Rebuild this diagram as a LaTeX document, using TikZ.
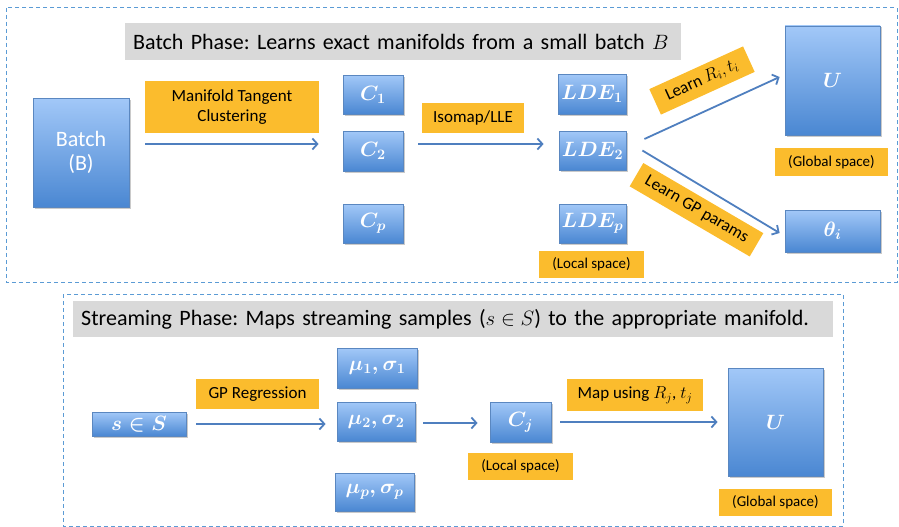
\documentclass[tikz,border=0pt]{standalone}
\usepackage{fontspec}
\setmainfont{Carlito}
\usetikzlibrary{arrows.meta,shadows}
\definecolor{bluetop}{HTML}{A2C8F8}
\definecolor{bluebot}{HTML}{4A87D2}
\definecolor{boxline}{HTML}{5A87C0}
\definecolor{gold}{HTML}{FBBC2D}
\definecolor{greyfill}{HTML}{D9D9D9}
\definecolor{arrowc}{HTML}{4F7FBF}
\definecolor{dashc}{HTML}{5B9BD5}
\frenchspacing
\begin{document}
\begin{tikzpicture}[x=1pt,y=-1pt,
  bluebox/.style={draw=boxline, line width=0.8pt, top color=bluetop, bottom color=bluebot,
    text=white, inner sep=0pt, font=\fontsize{22}{24}\selectfont\boldmath,
    drop shadow={shadow xshift=1.5pt, shadow yshift=-1.5pt, opacity=0.35, fill=black!60}},
  ylabel/.style={fill=gold, inner sep=0pt, align=center, text=black, font=\fontsize{17}{20}\selectfont},
  ysmall/.style={fill=gold, inner sep=0pt, align=center, text=black, font=\fontsize{15}{17}\selectfont},
  titlebox/.style={fill=greyfill, anchor=west, inner xsep=8pt, inner ysep=0pt, align=left, font=\fontsize{22}{24}\selectfont},
  arr/.style={draw=arrowc, line width=1.8pt, -{Straight Barb[length=5pt,width=11pt,line width=1.8pt]}},
  dashbox/.style={draw=dashc, line width=1pt, dash pattern=on 4pt off 3pt}
]
\useasboundingbox (0,0) rectangle (899,527);
% frames
\draw[dashbox] (6,8) rectangle (897,282);
\draw[dashbox] (63,294) rectangle (843,526);

% ---------- Batch phase ----------
\node[titlebox, minimum width=556pt, minimum height=37pt, text width=540pt] (t1) at (125,41.5)
  {Batch Phase: Learns exact manifolds from a small batch $B$};

\node[bluebox, minimum width=96pt, minimum height=109pt, align=center] (batch) at (81,152.5) {Batch\\(B)};
\node[ylabel, minimum width=174pt, minimum height=52pt] (mtc) at (232,107) {Manifold Tangent\\Clustering};

\node[bluebox, minimum width=60pt, minimum height=39pt] (c1) at (373,94.5) {$C_1$};
\node[bluebox, minimum width=60pt, minimum height=40pt] (c2) at (373,151) {$C_2$};
\node[bluebox, minimum width=60pt, minimum height=39pt] (cp) at (373,223.5) {$C_p$};

\node[ylabel, minimum width=102pt, minimum height=30pt] (iso) at (473,118) {Isomap/LLE};

\node[bluebox, minimum width=68pt, minimum height=40pt] (lde1) at (592,94) {$LDE_1$};
\node[bluebox, minimum width=67pt, minimum height=39pt] (lde2) at (592.5,150.5) {$LDE_2$};
\node[bluebox, minimum width=67pt, minimum height=39pt] (ldep) at (592.5,223.5) {$LDE_p$};
\node[ysmall, minimum width=105pt, minimum height=27pt] (loc1) at (591.5,264.5) {(Local space)};

\node[bluebox, minimum width=95pt, minimum height=109pt] (u1) at (832.5,80.5) {$U$};
\node[ysmall, minimum width=113pt, minimum height=28pt] (glob1) at (831.5,162) {(Global space)};
\node[bluebox, minimum width=95pt, minimum height=42pt] (theta) at (832.5,231) {$\theta_i$};

\node[ylabel, rotate=24.5, minimum width=103pt, minimum height=28pt] (lr) at (702,80.5) {Learn $R_i, t_i$};
\node[ylabel, rotate=-30.3, minimum width=139pt, minimum height=27pt] (lgp) at (696.5,209.75) {Learn GP params};

\draw[arr, shorten <=16pt, shorten >=24pt] ([yshift=8.5pt]batch.east) -- ([yshift=7pt]c2.west);
\draw[arr, shorten <=15pt, shorten >=15pt] ([yshift=7pt]c2.east) -- ([yshift=6.5pt]lde2.west);
\draw[arr] ([xshift=18pt,yshift=11.5pt]lde2.east) -- ([xshift=-5pt,yshift=3.5pt]u1.west);
\draw[arr] ([xshift=16pt]lde2.east) -- ([xshift=-5pt,yshift=-2pt]theta.west);

% ---------- Streaming phase ----------
\node[titlebox, minimum width=760pt, minimum height=36pt, text width=744pt] (t2) at (73,319)
  {Streaming Phase: Maps streaming samples ($s\in S$) to the appropriate manifold.};

\node[bluebox, minimum width=94pt, minimum height=24pt] (s) at (139,424) {$s\in S$};
\node[ylabel, minimum width=123pt, minimum height=30pt] (gpr) at (257.5,394) {GP Regression};

\node[bluebox, minimum width=80pt, minimum height=40pt] (mu1) at (377,368) {$\mu_1,\sigma_1$};
\node[bluebox, minimum width=78pt, minimum height=39pt] (mu2) at (376,421.5) {$\mu_2,\sigma_2$};
\node[bluebox, minimum width=79pt, minimum height=38pt] (mup) at (374.5,492) {$\mu_p,\sigma_p$};

\node[bluebox, minimum width=61pt, minimum height=40pt] (cj) at (520.5,422) {$C_j$};
\node[ysmall, minimum width=105pt, minimum height=27pt] (loc2) at (520.5,466.5) {(Local space)};

\node[ylabel, minimum width=136pt, minimum height=32pt] (map) at (635,395) {Map using $R_j$, $t_j$};

\node[bluebox, minimum width=95pt, minimum height=108pt] (u2) at (775.5,422) {$U$};
\node[ysmall, minimum width=113pt, minimum height=27pt] (glob2) at (775.5,502.5) {(Global space)};

\draw[arr, shorten <=10pt, shorten >=11pt] (s.east) -- ([yshift=-2.5pt]mu2.west);
\draw[arr, shorten <=8pt, shorten >=12pt] ([yshift=-1.5pt]mu2.east) -- ([yshift=-1pt]cj.west);
\draw[arr, shorten <=9pt, shorten >=10pt] (cj.east) -- (u2.west);
\end{tikzpicture}
\end{document}
